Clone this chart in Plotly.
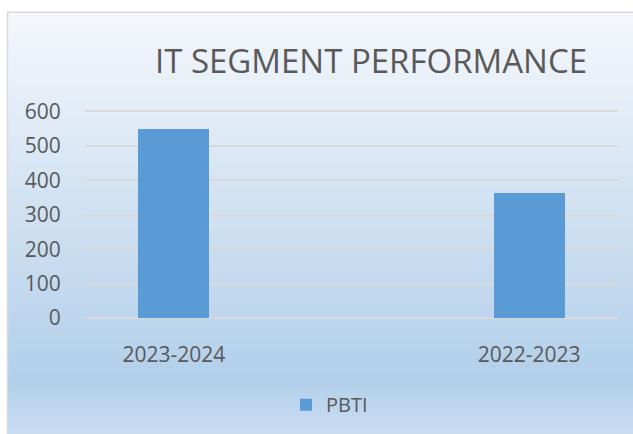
import plotly.graph_objects as go

categories = ["2023-2024", "2022-2023"]
pbti_values = [549, 363]
series_name = "PBTI"
y_ticks = [0, 100, 200, 300, 400, 500, 600]
title_text = "IT SEGMENT PERFORMANCE"

W, H = 633, 434
OFF = 0  # body margin removed by post_script
# plot area in window pixel coords
PL, PR, PT, PB = 85, 618, 108.2, 318.3
L = PL - OFF
R = W - (PR - OFF)
T = PT - OFF
B = H - (PB - OFF)
plot_w = W - L - R
plot_h = H - T - B

def px_to_paper_x(px):
    return (px - OFF - L) / plot_w

def px_to_paper_y(py):
    return (H - B - (py - OFF)) / plot_h

def hex2rgb(h):
    h = h.lstrip("#")
    return tuple(int(h[i:i + 2], 16) for i in (0, 2, 4))

stops = [(12, "#f5f8fc"), (120, "#e1ebf6"), (380, "#b2cfea"), (434, "#c9ddf1")]

def color_at(y):
    for (y0, c0), (y1, c1) in zip(stops[:-1], stops[1:]):
        if y0 <= y <= y1:
            t = (y - y0) / (y1 - y0)
            a, b = hex2rgb(c0), hex2rgb(c1)
            return "rgb(%d,%d,%d)" % tuple(round(a[i] + (b[i] - a[i]) * t) for i in range(3))
    return stops[-1][1]

shapes = []
step = 3
y = 12
while y < H + 8:
    shapes.append(dict(type="rect", xref="paper", yref="paper", layer="below",
                       x0=px_to_paper_x(7), x1=px_to_paper_x(W + 20),
                       y0=px_to_paper_y(y + step + 0.5), y1=px_to_paper_y(y),
                       fillcolor=color_at(y + step / 2), line=dict(width=0)))
    y += step
shapes.append(dict(type="rect", xref="paper", yref="paper", layer="below",
                   x0=px_to_paper_x(7.5), x1=px_to_paper_x(W + 20),
                   y0=px_to_paper_y(H + 20), y1=px_to_paper_y(12.5),
                   fillcolor="rgba(0,0,0,0)", line=dict(color="#d9d9d9", width=1.5)))

bar_color = "#5b9bd5"
fig = go.Figure()
fig.add_trace(go.Bar(x=categories, y=pbti_values, name=series_name, showlegend=False,
                     marker=dict(color=bar_color, line=dict(width=0)), width=0.2))
fig.add_trace(go.Scatter(x=[None], y=[None], mode="markers", name=series_name,
                         marker=dict(symbol="square", size=14, color=bar_color)))

font_family = "Open Sans"
fig.update_layout(
    width=W, height=H,
    margin=dict(l=L, r=R, t=T, b=B, autoexpand=False),
    paper_bgcolor="white",
    plot_bgcolor="rgba(0,0,0,0)",
    shapes=shapes,
    font=dict(family=font_family, color="#595959"),
    title=dict(text=title_text, x=px_to_paper_x(371), xref="paper", xanchor="center",
               y=1 - (61 - OFF) / H, yref="container", yanchor="middle",
               font=dict(size=33, color="#595959", family=font_family)),
    showlegend=True,
    legend=dict(orientation="h", x=px_to_paper_x(286), xanchor="left",
                y=px_to_paper_y(405), yanchor="middle",
                font=dict(size=20, color="#595959"), bgcolor="rgba(0,0,0,0)",
                itemsizing="constant"),
    xaxis=dict(type="category", range=[-0.25, 1.25], showgrid=False, showline=False,
               zeroline=False, ticks="outside", ticklen=18, tickcolor="rgba(0,0,0,0)",
               tickfont=dict(size=21, color="#595959")),
    yaxis=dict(range=[0, 610], tickvals=y_ticks, showgrid=True, gridcolor="#d9d9d9",
               gridwidth=1.5, zeroline=True, zerolinecolor="#d9d9d9", zerolinewidth=1.5,
               showline=False, ticks="outside", ticklen=19, tickcolor="rgba(0,0,0,0)",
               tickfont=dict(size=21, color="#595959")),
    bargap=0,
)

fig.write_html("out.html", config={"displayModeBar": False},
               post_script="document.body.style.margin='0';document.body.style.overflow='hidden';")
